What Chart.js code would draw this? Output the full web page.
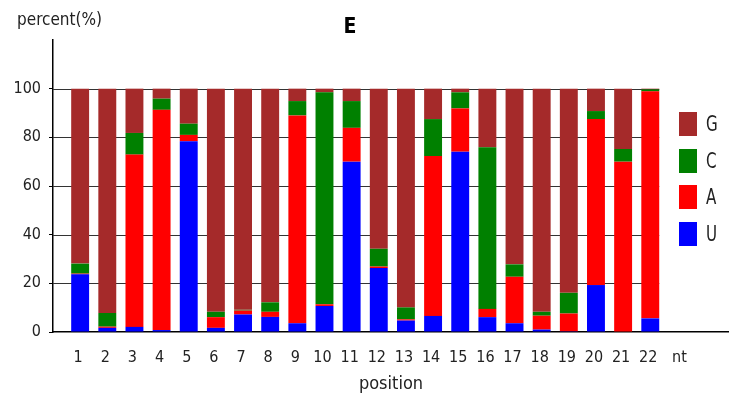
<!DOCTYPE html>
<html lang="en">
<head>
    <meta charset="UTF-8">
    <title>E - nucleotide composition by position</title>
    <style>
        body {
            margin: 0;
            padding: 0;
            background-color: #fff;
        }
        .wrap {
            position: relative;
            width: 729px;
            height: 401px;
        }
        #legend {
            position: absolute;
            left: 679px;
            top: 112px;
            font-family: "Liberation Sans Narrow", "DejaVu Sans Condensed", "DejaVu Sans", sans-serif;
            color: #222;
        }
        #legend div {
            height: 36.7px;
            display: flex;
            align-items: flex-start;
        }
        #legend span.box {
            display: inline-block;
            width: 18px;
            height: 24px;
        }
        #legend span.lbl {
            display: inline-block;
            font-size: 21px;
            line-height: 24px;
            margin-left: 9px;
            transform: scaleX(0.8);
            transform-origin: left center;
        }
    </style>
    <script src="https://cdn.jsdelivr.net/npm/chart.js"></script>
</head>
<body>
    <div class="wrap">
        <canvas id="chart" width="729" height="401"></canvas>
        <div id="legend"></div>
    </div>
    <script>
        const positions = ["1", "2", "3", "4", "5", "6", "7", "8", "9", "10", "11",
            "12", "13", "14", "15", "16", "17", "18", "19", "20", "21", "22"];
        const extraLabel = "nt";

        // percent per base at each position
        const valuesU = [23.7, 1.7, 2.1, 0.8, 78.4, 1.7, 7.2, 6.2, 3.6, 10.7, 70.0,
            26.3, 4.7, 6.6, 74.1, 6.1, 3.6, 1.0, 0.3, 19.3, 0.0, 5.6];
        const valuesA = [0.3, 0.5, 70.8, 90.5, 2.6, 4.4, 1.6, 2.1, 85.4, 0.7, 13.9,
            0.6, 0.5, 65.7, 17.8, 3.4, 19.1, 5.7, 7.3, 68.2, 70.0, 93.3];
        const valuesC = [4.1, 5.6, 8.9, 4.6, 4.6, 2.2, 0.3, 3.9, 5.9, 87.1, 11.0,
            7.3, 4.9, 15.2, 6.6, 66.4, 5.1, 1.6, 8.5, 3.3, 5.2, 0.8];
        const valuesG = [71.9, 92.2, 18.2, 4.1, 14.4, 91.7, 90.9, 87.8, 5.1, 1.5, 5.1,
            65.8, 89.9, 12.5, 1.5, 24.1, 72.2, 91.7, 83.9, 9.2, 24.8, 0.3];

        const yTicks = [0, 20, 40, 60, 80, 100];

        const FONT = "'Liberation Sans Narrow', 'DejaVu Sans Condensed', 'DejaVu Sans', sans-serif";

        function toPoints(values) {
            return values.map((v, i) => ({ x: i + 1, y: v }));
        }

        // horizontal grid lines stop at the last bar, like the original
        const gridPlugin = {
            id: "shortGrid",
            beforeDatasetsDraw(chart) {
                const { ctx, chartArea, scales } = chart;
                const xEnd = scales.x.getPixelForValue(positions.length + 0.33);
                ctx.save();
                ctx.strokeStyle = "#333";
                ctx.lineWidth = 1;
                for (const v of yTicks) {
                    if (v === 0) continue;
                    const y = Math.round(scales.y.getPixelForValue(v)) + 0.5;
                    ctx.beginPath();
                    ctx.moveTo(chartArea.left, y);
                    ctx.lineTo(xEnd, y);
                    ctx.stroke();
                }
                ctx.restore();
            },
        };

        const textPlugin = {
            id: "texts",
            afterDraw(chart) {
                const ctx = chart.ctx;
                ctx.save();
                ctx.fillStyle = "#222";
                ctx.textBaseline = "middle";
                ctx.textAlign = "left";
                ctx.font = "17px " + FONT;
                ctx.fillText("percent(%)", 17, 21);
                ctx.textAlign = "center";
                ctx.fillStyle = "#000";
                ctx.font = "bold 21px " + FONT;
                ctx.fillText("E", 350, 28);
                ctx.restore();
            },
        };

        const datasets = [
            { label: "U", data: toPoints(valuesU), backgroundColor: "#0000ff" },
            { label: "A", data: toPoints(valuesA), backgroundColor: "#ff0000" },
            { label: "C", data: toPoints(valuesC), backgroundColor: "#008000" },
            { label: "G", data: toPoints(valuesG), backgroundColor: "#a52a2a" },
        ];

        const ctx = document.getElementById("chart").getContext("2d");
        const chart = new Chart(ctx, {
            type: "bar",
            data: { datasets: datasets },
            options: {
                responsive: false,
                animation: false,
                barPercentage: 0.66,
                categoryPercentage: 1,
                layout: { padding: { top: 40, left: 0, right: 0, bottom: 0 } },
                plugins: {
                    legend: { display: false },
                    tooltip: { enabled: false },
                },
                scales: {
                    x: {
                        type: "linear",
                        stacked: true,
                        offset: false,
                        min: 0,
                        max: 24.9,
                        grid: { display: false, drawTicks: false },
                        border: { display: true, color: "#000", width: 1.5 },
                        afterBuildTicks(axis) {
                            const t = positions.map((p, i) => ({ value: i + 1 }));
                            t.push({ value: positions.length + 1.15 });
                            axis.ticks = t;
                        },
                        ticks: {
                            autoSkip: false,
                            maxRotation: 0,
                            padding: 16,
                            labelOffset: -2,
                            color: "#222",
                            font: { family: FONT, size: 16 },
                            callback: (value, index) =>
                                index < positions.length ? positions[index] : extraLabel,
                        },
                        title: {
                            display: true,
                            text: "position",
                            color: "#222",
                            font: { family: FONT, size: 18 },
                            padding: { top: 4, bottom: 6 },
                        },
                        afterFit(scale) {
                            scale.height = 69;
                        },
                    },
                    y: {
                        stacked: true,
                        min: 0,
                        max: 120,
                        afterBuildTicks(axis) {
                            axis.ticks = yTicks.map(v => ({ value: v }));
                        },
                        grid: {
                            display: true,
                            drawOnChartArea: false,
                            drawTicks: true,
                            tickLength: 4,
                            color: "#000",
                        },
                        border: { display: true, color: "#000", width: 1.5 },
                        ticks: {
                            padding: 8,
                            color: "#222",
                            font: { family: FONT, size: 16 },
                        },
                        afterFit(scale) {
                            scale.width = 53;
                        },
                    },
                },
            },
            plugins: [gridPlugin, textPlugin],
        });

        // legend, top to bottom: G, C, A, U
        const legend = document.getElementById("legend");
        datasets.slice().reverse().forEach(ds => {
            const row = document.createElement("div");
            const box = document.createElement("span");
            box.className = "box";
            box.style.background = ds.backgroundColor;
            const lbl = document.createElement("span");
            lbl.className = "lbl";
            lbl.textContent = ds.label;
            row.appendChild(box);
            row.appendChild(lbl);
            legend.appendChild(row);
        });
    </script>
</body>
</html>
